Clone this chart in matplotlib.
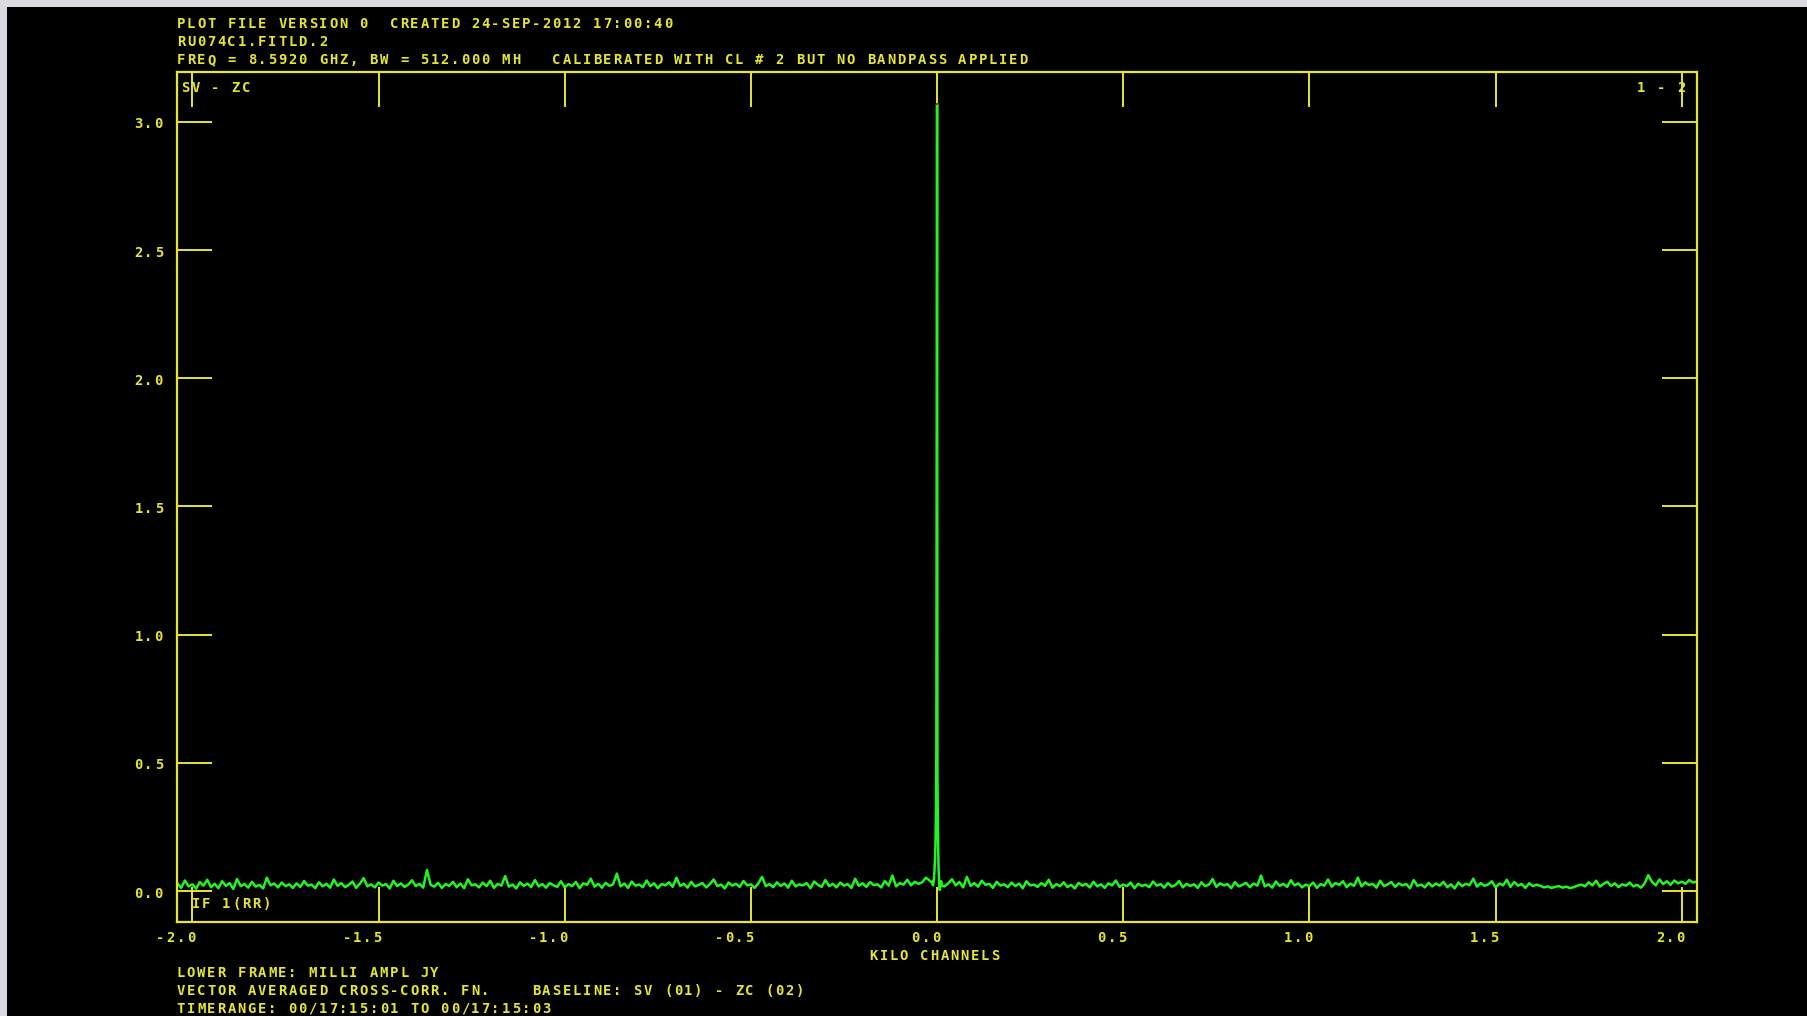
import numpy as np
import matplotlib
matplotlib.use('Agg')
import matplotlib.pyplot as plt
from matplotlib.transforms import IdentityTransform
from matplotlib.patches import Rectangle

W, H = 1807, 1016
YEL = '#e6e632'
GRN = '#22f522'
PITCH = 10.15  # character pitch of the plot font, pixels

# amplitude (milli Jy), kilo-channel axis
noise_left = [  # -2.04 .. -0.02 step 0.01
    0.030, 0.012, 0.041, 0.018, 0.026, 0.009, 0.035, 0.021, 0.044, 0.015, 0.028, 0.011, 0.038, 0.020, 0.031, 0.008, 0.047, 0.019, 0.027, 0.013,
    0.036, 0.017, 0.024, 0.010, 0.052, 0.022, 0.029, 0.014, 0.033, 0.019, 0.026, 0.012, 0.030, 0.016, 0.039, 0.021, 0.025, 0.011, 0.034, 0.018,
    0.028, 0.013, 0.045, 0.020, 0.031, 0.015, 0.024, 0.037, 0.012, 0.029, 0.050, 0.018, 0.026, 0.014, 0.033, 0.021, 0.027, 0.010, 0.040, 0.019,
    0.030, 0.016, 0.025, 0.042, 0.019, 0.028, 0.013, 0.082, 0.024, 0.017, 0.032, 0.012, 0.027, 0.020, 0.036, 0.015, 0.029, 0.011, 0.046, 0.022,
    0.026, 0.014, 0.033, 0.019, 0.040, 0.012, 0.028, 0.021, 0.058, 0.017, 0.025, 0.010, 0.034, 0.020, 0.029, 0.015, 0.043, 0.018, 0.027, 0.013,
    0.031, 0.022, 0.016, 0.038, 0.014, 0.027, 0.019, 0.035, 0.011, 0.030, 0.024, 0.048, 0.017, 0.028, 0.013, 0.032, 0.020, 0.026, 0.068, 0.018,
    0.029, 0.012, 0.037, 0.021, 0.025, 0.015, 0.041, 0.019, 0.030, 0.011, 0.027, 0.022, 0.034, 0.016, 0.052, 0.020, 0.028, 0.013, 0.036, 0.018,
    0.024, 0.031, 0.014, 0.027, 0.045, 0.019, 0.025, 0.010, 0.033, 0.021, 0.028, 0.016, 0.039, 0.022, 0.026, 0.012, 0.030, 0.055, 0.019, 0.027,
    0.015, 0.034, 0.020, 0.029, 0.013, 0.040, 0.018, 0.026, 0.022, 0.031, 0.011, 0.037, 0.024, 0.016, 0.043, 0.019, 0.028, 0.014, 0.033, 0.021,
    0.027, 0.012, 0.048, 0.020, 0.030, 0.016, 0.035, 0.023, 0.026, 0.014, 0.039, 0.021, 0.060, 0.018, 0.031, 0.025, 0.044, 0.022, 0.036, 0.028,
    0.034, 0.052, 0.041,
]
spike_amp = [  # -0.012 .. 0.012 step 0.001
    0.030, 0.022, 0.040, 0.035, 0.060, 0.075, 0.110, 0.150, 0.210, 0.320, 0.550, 1.780,
    3.070,
    0.460, 0.280, 0.160, 0.090, 0.050, 0.020, 0.004, 0.012, 0.030, 0.025, 0.038, 0.020,
]
noise_right = [  # 0.02 .. 2.04 step 0.01
    0.018, 0.030, 0.046, 0.022, 0.035, 0.014, 0.055, 0.020, 0.031, 0.017, 0.040, 0.024, 0.028, 0.012, 0.036, 0.021, 0.026, 0.015, 0.033, 0.019,
    0.029, 0.011, 0.038, 0.022, 0.025, 0.016, 0.031, 0.020, 0.044, 0.013, 0.027, 0.019, 0.034, 0.015, 0.024, 0.010, 0.032, 0.021, 0.028, 0.014,
    0.036, 0.018, 0.026, 0.012, 0.030, 0.022, 0.041, 0.016, 0.025, 0.019, 0.033, 0.011, 0.028, 0.020, 0.024, 0.015, 0.037, 0.021, 0.027, 0.013,
    0.031, 0.017, 0.023, 0.039, 0.014, 0.028, 0.020, 0.026, 0.012, 0.034, 0.019, 0.025, 0.047, 0.016, 0.030, 0.022, 0.027, 0.011, 0.035, 0.018,
    0.024, 0.032, 0.015, 0.029, 0.021, 0.060, 0.018, 0.026, 0.013, 0.037, 0.020, 0.028, 0.016, 0.042, 0.022, 0.030, 0.014, 0.025, 0.019, 0.033,
    0.012, 0.027, 0.021, 0.045, 0.017, 0.031, 0.024, 0.038, 0.015, 0.029, 0.020, 0.052, 0.018, 0.034, 0.023, 0.028, 0.013, 0.040, 0.019, 0.026,
    0.035, 0.016, 0.030, 0.022, 0.027, 0.011, 0.043, 0.020, 0.025, 0.014, 0.032, 0.018, 0.029, 0.021, 0.036, 0.015, 0.026, 0.010, 0.033, 0.019,
    0.028, 0.023, 0.048, 0.017, 0.031, 0.020, 0.026, 0.038, 0.014, 0.029, 0.022, 0.044, 0.016, 0.035, 0.021, 0.027, 0.012, 0.030, 0.019, 0.025,
    0.020, 0.014, 0.018, 0.012, 0.016, 0.019, 0.013, 0.017, 0.011, 0.015, 0.021, 0.025, 0.018, 0.034, 0.022, 0.040, 0.017, 0.028, 0.036, 0.020,
    0.030, 0.015, 0.026, 0.021, 0.033, 0.018, 0.024, 0.013, 0.029, 0.062, 0.035, 0.022, 0.045, 0.027, 0.038, 0.024, 0.041, 0.030, 0.036, 0.028,
    0.043, 0.033, 0.037,
]

x_ticks = [-2.0, -1.5, -1.0, -0.5, 0.0, 0.5, 1.0, 1.5, 2.0]
x_tick_labels = ['-2.0', '-1.5', '-1.0', '-0.5', '0.0', '0.5', '1.0', '1.5', '2.0']
y_ticks = [0.0, 0.5, 1.0, 1.5, 2.0, 2.5, 3.0]
y_tick_labels = ['0.0', '0.5', '1.0', '1.5', '2.0', '2.5', '3.0']

header = ['PLOT FILE VERSION 0  CREATED 24-SEP-2012 17:00:40',
          'RU074C1.FITLD.2',
          'FREQ = 8.5920 GHZ, BW = 512.000 MH   CALIBERATED WITH CL # 2 BUT NO BANDPASS APPLIED']
footer = ['LOWER FRAME: MILLI AMPL JY',
          'VECTOR AVERAGED CROSS-CORR. FN.    BASELINE: SV (01) - ZC (02)',
          'TIMERANGE: 00/17:15:01 TO 00/17:15:03']

chan_left = np.round(np.arange(-2.04, -0.015, 0.01), 3)
chan_spike = np.round(np.arange(-12, 13) * 0.001, 3)
chan_right = np.round(np.arange(0.02, 2.045, 0.01), 3)
chan = np.concatenate([chan_left, chan_spike, chan_right])
amp = np.concatenate([noise_left, spike_amp, noise_right])

fig = plt.figure(figsize=(W / 100, H / 100), dpi=100, facecolor='black')
ax = fig.add_axes([176.7 / W, 1 - 921.7 / H, 1520 / W, 850 / H], facecolor='black')

ax.plot(chan, amp, color=GRN, lw=1.8)
ipk = np.argmax(amp)
ax.plot(chan[ipk], amp[ipk], 's', color='#e01010', ms=2, mew=0)

ax.set_xlim(-2.042, 2.040)
ax.set_ylim(-0.1197, 3.195)
ax.set_xticks(x_ticks)
ax.set_yticks(y_ticks)
ax.tick_params(direction='in', length=25.2, width=1.4, color=YEL, top=True, right=True,
               labelbottom=False, labelleft=False)
for sp in ax.spines.values():
    sp.set_color(YEL)
    sp.set_linewidth(1.6)


def put(x, y, s):
    # x, y in pixels from the top-left corner, y is the baseline
    for i, ch in enumerate(s):
        if ch != ' ':
            fig.text(x + i * PITCH, H - y, ch, transform=IdentityTransform(),
                     family='DejaVu Sans Mono', fontsize=10, fontweight='bold',
                     color=YEL, ha='left', va='baseline')


def put_right(r, y, s):
    put(r - 8.4 - (len(s) - 1) * PITCH, y, s)


for t, lab in zip(x_ticks, x_tick_labels):
    px, _ = ax.transData.transform((t, 0))
    put_right(px + 3, 941.7, lab)
for t, lab in zip(y_ticks, y_tick_labels):
    _, py = ax.transData.transform((0, t))
    put_right(163, H - py + 6.6, lab)

for i, line in enumerate(header):
    put(176.7, 28.3 + i * 17.9, line)
for i, line in enumerate(footer):
    put(176.7, 977.3 + i * 17.7, line)
put(181, 92.3, 'SV - ZC')
put(1636.7, 92.3, '1 - 2')
put(191.7, 908, 'IF 1(RR)')
put(869.3, 960, 'KILO CHANNELS')

# grey window border, top and left
fig.add_artist(Rectangle((0, H - 7), W, 7, transform=IdentityTransform(), color='#d9dbde', lw=0))
fig.add_artist(Rectangle((0, 0), 7, H, transform=IdentityTransform(), color='#d9dbde', lw=0))

fig.savefig('out.png', dpi=100, facecolor='black')
